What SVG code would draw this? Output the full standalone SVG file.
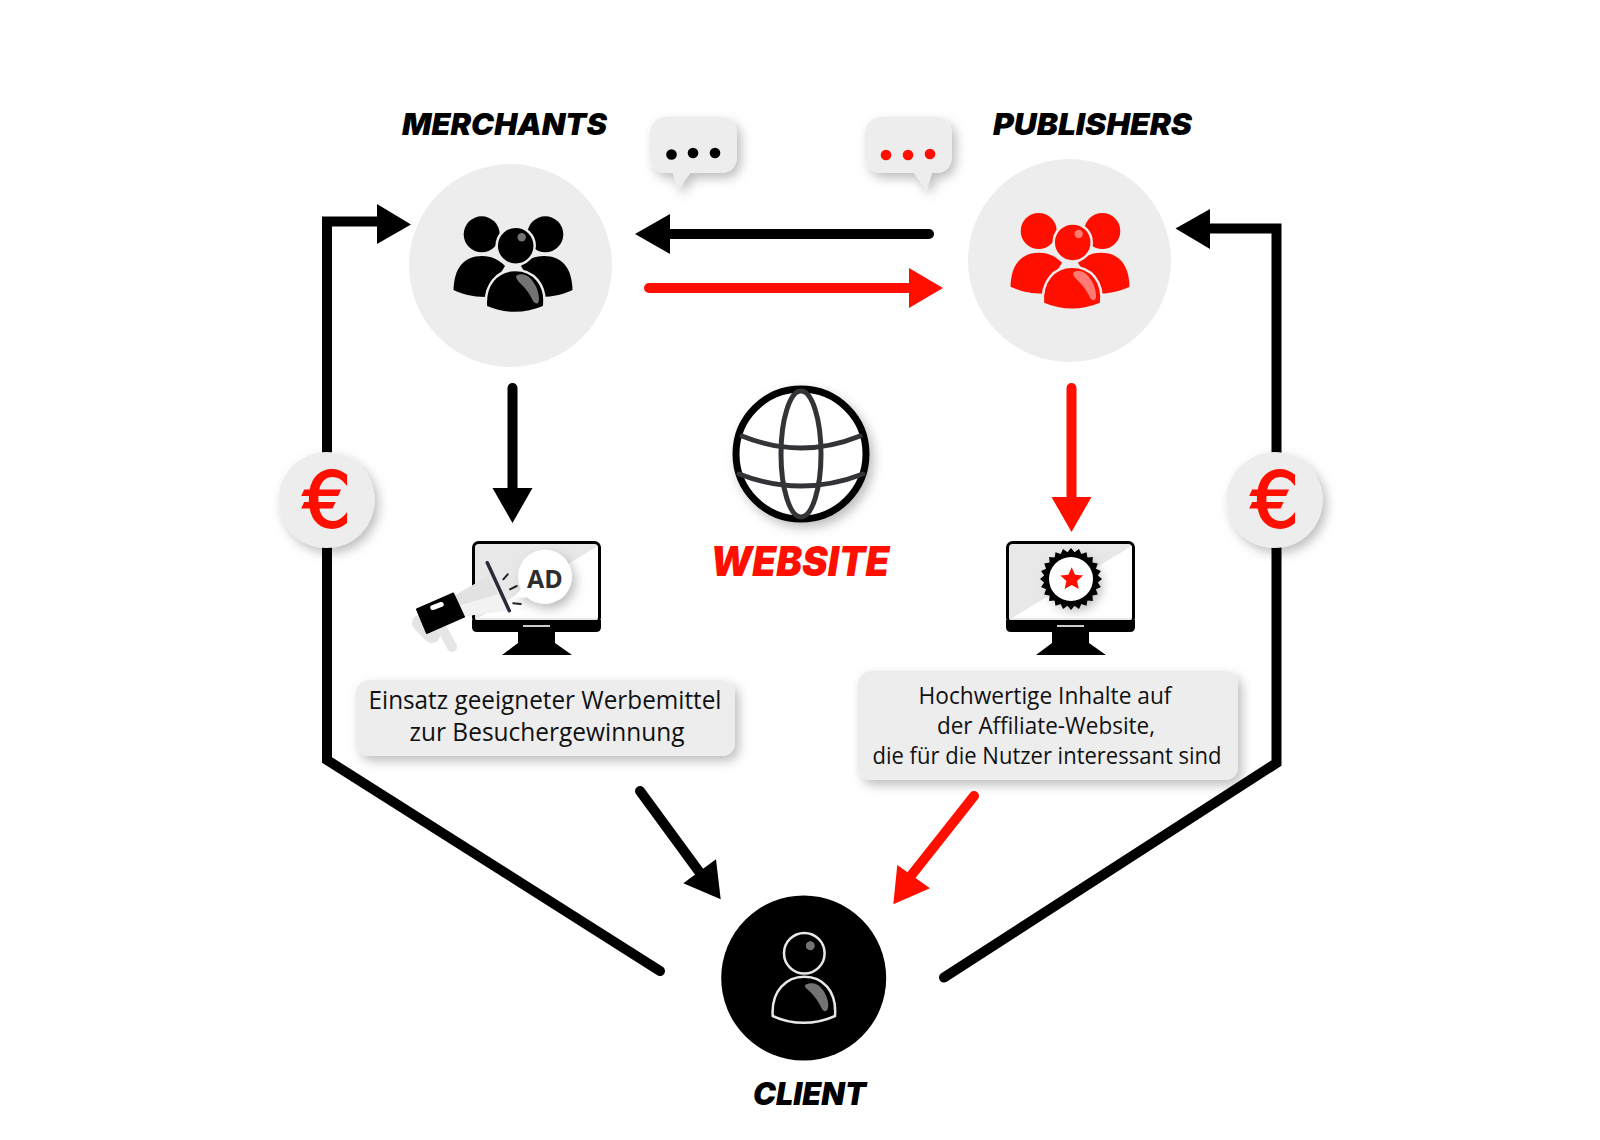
<svg xmlns="http://www.w3.org/2000/svg" width="1600" height="1140" viewBox="0 0 1600 1140">
<style>
.title{font-family:"Inter","Roboto","Liberation Sans",sans-serif;font-weight:900;font-style:italic;text-anchor:middle}
.body{font-family:"Open Sans","Noto Sans",sans-serif;fill:#111;text-anchor:middle}
.euro{font-family:"DejaVu Sans",sans-serif;font-weight:400;font-size:76px;fill:#ff0f00;stroke:#ff0f00;stroke-width:2;text-anchor:middle}
.k{fill:none;stroke:#000;stroke-width:10;stroke-linecap:round;stroke-linejoin:miter}
.r{fill:none;stroke:#ff0f00;stroke-width:10;stroke-linecap:round}
.disc{fill:#ededed}
.hl{fill:#fff;fill-opacity:.45}
</style>
<defs>
<filter id="sh" x="-30%" y="-30%" width="170%" height="170%"><feDropShadow dx="4" dy="5" stdDeviation="5.500" flood-color="#000" flood-opacity=".26"/></filter>
<g id="people">
<circle cx="481.700" cy="234.300" r="18"/><circle cx="545.300" cy="234.300" r="18"/>
<path d="M453.500,290C454,268 464,256 482,256C492,256 499,260 505,266L486,297C472,297 462,294 453.500,290Z"/>
<path d="M572.500,290C572,268 562,256 544,256C534,256 527,260 521,266L540,297C554,297 564,294 572.500,290Z"/>
<circle cx="515.700" cy="245.700" r="19" stroke="#ededed" stroke-width="2.500"/>
<path d="M486,307C484,285 497,270 515,270C534,270 547,285 544,307C525,315 505,315 486,307Z" stroke="#ededed" stroke-width="2.500"/>
<circle class="hl" cx="521.700" cy="237.300" r="4.200"/>
<path class="hl" d="M516,276C520,273 527,274 531,279C536,285 539,292 539,299C539,304 536,305 533,301C529,292 524,287 519,282C517,280 516,278 516,276Z"/>
</g>
<g id="monitor">
<rect x="473.500" y="542.500" width="126" height="80" rx="5" fill="#e8e8e8" stroke="#000" stroke-width="3"/>
<path d="M598,546L478,618L595,618Q598,618 598,616Z" fill="#fff"/>
<path d="M472,620H601V627Q601,632 596,632H477Q472,632 472,627Z"/>
<path d="M518,632V643L502,655H572L555,643V632Z"/>
<rect x="523" y="625" width="27" height="2" fill="#ccc"/>
</g>
</defs>
<rect width="1600" height="1140" fill="#fff"/>

<g id="connectors">
<path class="k" d="M660,971L327,760V221.500H380"/>
<path d="M377,204L411,224.500L377,244Z"/>
<path class="k" d="M944,977.500L1276.500,763V228.500H1205"/>
<path d="M1210,209L1175.500,228.500L1210,249Z"/>
<path class="k" d="M929,234H665"/>
<path d="M670,214L635,234L670,254Z"/>
<path class="r" d="M649,288H915"/>
<path d="M909,268L943,288L909,308Z" fill="#ff0f00"/>
<path class="k" d="M512.500,388V493"/>
<path d="M492.500,488H532.500L512.500,523Z"/>
<path class="r" d="M1071.500,388V502"/>
<path d="M1051.500,497H1091.500L1071.500,532Z" fill="#ff0f00"/>
<path class="k" d="M640,791L703,877"/>
<path d="M683.300,883.300L716,859.300L720.700,899.300Z"/>
<path class="r" d="M974,796L910,877"/>
<path d="M893.300,904.300L897.300,865L930,888.300Z" fill="#ff0f00"/>
</g>

<g id="merchants">
<circle class="disc" cx="510.500" cy="265.500" r="101.500"/>
<use href="#people" fill="#000"/>
<text class="title" x="504.500" y="135" font-size="30" fill="#000" textLength="205" lengthAdjust="spacingAndGlyphs">MERCHANTS</text>
</g>
<g id="publishers">
<circle class="disc" cx="1069.500" cy="260.500" r="101.500"/>
<use href="#people" fill="#ff0f00" transform="translate(557,-3.300)"/>
<text class="title" x="1092.500" y="135" font-size="30" fill="#000" textLength="199" lengthAdjust="spacingAndGlyphs">PUBLISHERS</text>
</g>
<g id="bubble-merchants">
<path class="disc" filter="url(#sh)" d="M668,117H719Q737,117 737,135V155Q737,173 719,173H690L678,190L673,173H668Q650,173 650,155V135Q650,117 668,117Z"/>
<circle cx="671.500" cy="154.500" r="5.300"/><circle cx="693" cy="153" r="5.300"/><circle cx="715" cy="153" r="5.300"/>
</g>
<g id="bubble-publishers">
<path class="disc" filter="url(#sh)" d="M883,117H934Q952,117 952,135V155Q952,173 934,173H932L926.500,190L914,173H883Q865,173 865,155V135Q865,117 883,117Z"/>
<circle cx="886" cy="155" r="5.300" fill="#ff0f00"/><circle cx="908" cy="155" r="5.300" fill="#ff0f00"/><circle cx="930" cy="154" r="5.300" fill="#ff0f00"/>
</g>
<g id="euro-left">
<circle class="disc" filter="url(#sh)" cx="326.500" cy="500" r="48"/>
<text class="euro" x="327" y="527">€</text>
</g>
<g id="euro-right">
<circle class="disc" filter="url(#sh)" cx="1274.500" cy="500" r="48"/>
<text class="euro" x="1275" y="527">€</text>
</g>
<g id="website">
<circle cx="801" cy="454" r="65" fill="#fff" stroke="#000" stroke-width="7" filter="url(#sh)"/>
<g fill="none" stroke="#333338" stroke-width="5" stroke-linecap="round">
<ellipse cx="801" cy="454" rx="20" ry="63"/>
<path d="M742,436Q801,460 860,436"/>
<path d="M739,474Q801,498 863,474"/>
</g>
<text class="title" x="800" y="576" font-size="41" fill="#ff0f00" textLength="179" lengthAdjust="spacingAndGlyphs">WEBSITE</text>
</g>
<g id="ad-monitor">
<use href="#monitor"/>
<path d="M420,623L432,635" stroke="#e4e4e4" stroke-width="16" stroke-linecap="round"/>
<path d="M443,630L452,647" stroke="#e6e6e6" stroke-width="10" stroke-linecap="round"/>
<path d="M455,595L487.300,576.700L509.300,610L461.700,616.700Z" fill="#e2e2e2"/>
<path d="M458,606L498,594L509.300,610L461.700,616.700Z" fill="#f2f2f2"/>
<path d="M416.700,609.300L453.300,593.300L464.300,616.700L426.700,633.300Z" stroke="#000" stroke-width="1.500" stroke-linejoin="round"/>
<rect x="430" y="603.500" width="14" height="5" rx="2.500" fill="#fff" transform="rotate(-20 437 606)"/>
<path d="M487.300,562.700L509.300,610.700" stroke="#2a2a3a" stroke-width="3.500" stroke-linecap="round"/>
<path d="M503.300,579.300L507.700,574.300M510,589.300L516.700,586M513.300,603.300L520.700,604" stroke="#222" stroke-width="2" stroke-linecap="round"/>
<path filter="url(#sh)" fill="#fff" d="M545,549.700A27,27 0 1 1 527,597L513,598L521,589A27,27 0 0 1 545,549.700Z"/>
<text x="545" y="587.500" font-family="Open Sans,Noto Sans,sans-serif" font-weight="700" font-size="25" fill="#2d2d2d" text-anchor="middle">AD</text>
</g>
<g id="content-monitor">
<use href="#monitor" transform="translate(534,0)"/>
<circle cx="1071" cy="579" r="27" filter="url(#sh)"/>
<polygon transform="translate(1071,579)" points="31,0 26.800,3.500 29.900,8 24.900,10.300 26.800,15.500 21.400,16.400 21.900,21.900 16.400,21.400 15.500,26.800 10.300,24.900 8,29.900 3.500,26.800 0,31 -3.500,26.800 -8,29.900 -10.300,24.900 -15.500,26.800 -16.400,21.400 -21.900,21.900 -21.400,16.400 -26.800,15.500 -24.900,10.300 -29.900,8 -26.800,3.500 -31,0 -26.800,-3.500 -29.900,-8 -24.900,-10.300 -26.800,-15.500 -21.400,-16.400 -21.900,-21.900 -16.400,-21.400 -15.500,-26.800 -10.300,-24.900 -8,-29.900 -3.500,-26.800 0,-31 3.500,-26.800 8,-29.900 10.300,-24.900 15.500,-26.800 16.400,-21.400 21.900,-21.900 21.400,-16.400 26.800,-15.500 24.900,-10.300 29.900,-8 26.800,-3.500"/>
<circle cx="1071" cy="579" r="22" fill="#fff"/>
<polygon fill="#ff0f00" points="1071.700,567.300 1075,574.800 1083.100,575.600 1077,581 1078.800,589 1071.700,584.900 1064.600,589 1066.400,581 1060.300,575.600 1068.400,574.800"/>
</g>
<g id="ad-text">
<rect class="disc" filter="url(#sh)" x="356" y="680" width="379" height="76" rx="13"/>
<text class="body" x="545" y="709" font-size="25" textLength="353" lengthAdjust="spacingAndGlyphs">Einsatz geeigneter Werbemittel</text>
<text class="body" x="547" y="741" font-size="25" textLength="275" lengthAdjust="spacingAndGlyphs">zur Besuchergewinnung</text>
</g>
<g id="content-text">
<rect class="disc" filter="url(#sh)" x="858" y="671" width="380" height="109" rx="13"/>
<text class="body" x="1045" y="704" font-size="23.500" textLength="253" lengthAdjust="spacingAndGlyphs">Hochwertige Inhalte auf</text>
<text class="body" x="1046" y="734" font-size="23.500" textLength="218" lengthAdjust="spacingAndGlyphs">der Affiliate-Website,</text>
<text class="body" x="1047" y="764" font-size="23.500" textLength="349" lengthAdjust="spacingAndGlyphs">die für die Nutzer interessant sind</text>
</g>
<g id="client">
<circle cx="803.700" cy="978" r="82.500"/>
<circle cx="804.300" cy="953.300" r="20.300" fill="none" stroke="#e8e8e8" stroke-width="2.500"/>
<circle class="hl" cx="810.300" cy="945.700" r="4.500"/>
<path d="M772.700,1016C771,990 787,976.700 804.300,976.700C822,976.700 837,990 835,1016C815,1025 792,1025 772.700,1016Z" fill="none" stroke="#e8e8e8" stroke-width="2.500"/>
<path class="hl" d="M805,985C811,982 818,983 822,989C827,995 829,1003 828,1008C827,1012 824,1012 822,1009C818,1000 812,993 807,989C805,988 805,986 805,985Z"/>
<text class="title" x="809.500" y="1105" font-size="31" fill="#000" textLength="113" lengthAdjust="spacingAndGlyphs">CLIENT</text>
</g>
</svg>
